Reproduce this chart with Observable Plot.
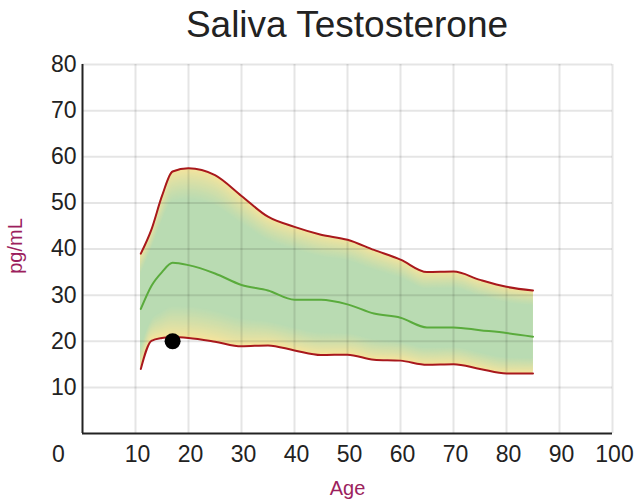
<!DOCTYPE html>
<html>
<head>
<meta charset="utf-8">
<script src="https://cdn.jsdelivr.net/npm/d3@7"></script>
<script src="https://cdn.jsdelivr.net/npm/@observablehq/plot@0.6"></script>
<style>
  html, body { margin: 0; padding: 0; background: #fff; }
  #wrap { position: relative; width: 637px; height: 502px; font-family: "Liberation Sans", Arial, sans-serif; }
  #title { position: absolute; left: 82px; width: 530px; top: 6px; text-align: center; font-size: 37px; line-height: 37px; color: #222; }
  #wrap svg { position: absolute; left: 0; top: 0; }
</style>
</head>
<body>
<div id="wrap"><div id="title">Saliva Testosterone</div></div>
<script>
const ages   = [11, 13, 15, 17, 20, 25, 30, 35, 40, 45, 50, 55, 60, 65, 70, 75, 80, 85];
const upper  = [39, 44.2, 51.5, 56.8, 57.5, 56, 51.5, 47, 44.8, 43.1, 42, 39.8, 37.7, 35, 35.1, 33.3, 31.8, 31];
const median = [27, 32, 35, 37, 36.5, 34.7, 32.2, 31, 29, 29, 28, 26, 25.1, 23, 23, 22.4, 21.8, 21];
const lower  = [14, 20.1, 20.7, 20.9, 20.7, 19.9, 18.9, 19.1, 18, 17, 17.1, 16, 15.8, 14.9, 15, 14, 13, 13];
const patient = [{age: 17, value: 20}];
const xTicks = [10, 20, 30, 40, 50, 60, 70, 80, 90, 100];
const xZeroTick = [0];
const yTicks = [10, 20, 30, 40, 50, 60, 70, 80];

const rows = ages.map((a, i) => ({age: a, lo: lower[i], hi: upper[i], med: median[i]}));

const yellow = "#f7e49c", green = "#b9dbb2";
const N = 26, F = 0.19;
const interp = d3.interpolateRgb(yellow, green);
const bands = d3.range(N).map(i => {
  const f = (i / N) * F;
  const t = Math.pow(i / (N - 1), 0.8);
  return Plot.areaY(rows, {
    x: "age",
    y1: d => d.lo + f * (d.hi - d.lo),
    y2: d => d.hi - f * (d.hi - d.lo),
    fill: interp(t),
    curve: "monotone-x"
  });
});

const chart = Plot.plot({
  width: 637,
  height: 502,
  marginTop: 64,
  marginBottom: 69,
  marginLeft: 82,
  marginRight: 25,
  x: {domain: [0, 100]},
  y: {domain: [0, 80]},
  style: {fontFamily: "'Liberation Sans', Arial, sans-serif", fontSize: "23px", color: "#222", background: "transparent"},
  marks: [
    ...bands,
    Plot.gridX({ticks: xTicks, stroke: "#000", strokeOpacity: 0.1, strokeWidth: 2}),
    Plot.gridY({ticks: yTicks, stroke: "#000", strokeOpacity: 0.1, strokeWidth: 2}),
    Plot.line(rows, {x: "age", y: "hi", stroke: "#a8181c", strokeWidth: 2, curve: "monotone-x"}),
    Plot.line(rows, {x: "age", y: "lo", stroke: "#a8181c", strokeWidth: 2, curve: "monotone-x"}),
    Plot.line(rows, {x: "age", y: "med", stroke: "#5aab3c", strokeWidth: 2, curve: "monotone-x"}),
    Plot.dot(patient, {x: "age", y: "value", r: 8, fill: "#000"}),
    Plot.ruleX([0], {stroke: "#222", strokeWidth: 2}),
    Plot.ruleY([0], {stroke: "#222", strokeWidth: 2}),
    Plot.axisY({ticks: yTicks, tickSize: 0, tickPadding: 6, label: null, fontSize: 23}),
    Plot.axisX({ticks: xTicks, tickSize: 0, tickPadding: 12, label: null, dx: 2, fontSize: 23}),
    Plot.axisX({ticks: xZeroTick, tickSize: 0, tickPadding: 12, label: null, dx: -24, fontSize: 23}),
    Plot.text(["pg/mL"], {frameAnchor: "left", textAnchor: "middle", dx: -67, dy: -3, rotate: -90, text: d => d, fill: "#9c1f5e", fontSize: 20}),
    Plot.text(["Age"], {frameAnchor: "bottom", dy: 61, text: d => d, fill: "#9c1f5e", fontSize: 20})
  ]
});
document.getElementById("wrap").appendChild(chart);
</script>
</body>
</html>
